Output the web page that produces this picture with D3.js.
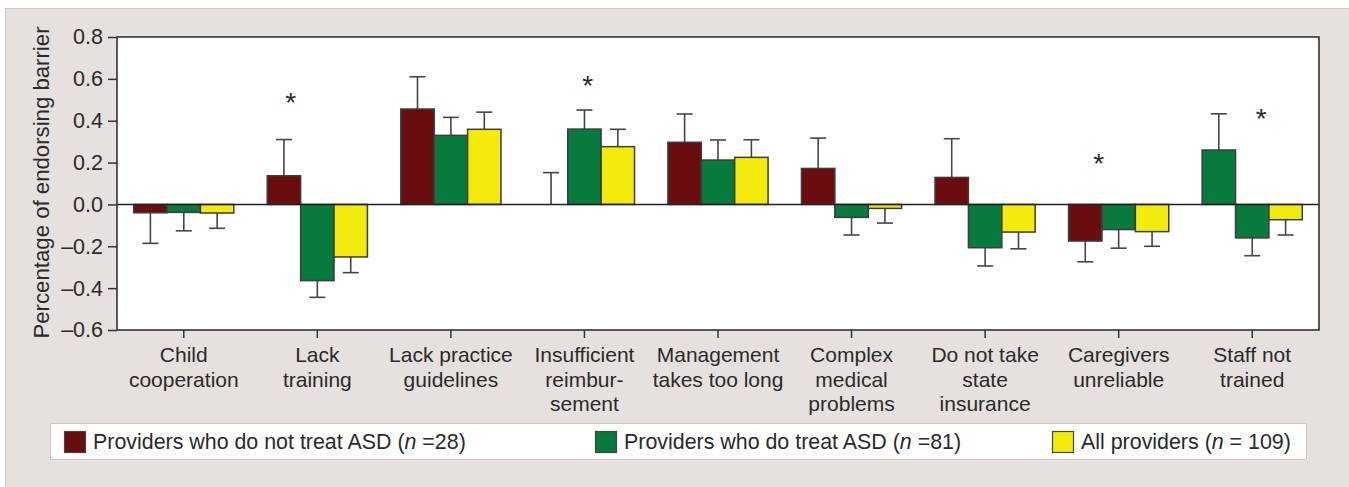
<!DOCTYPE html>
<html>
<head>
<meta charset="utf-8">
<script src="https://cdn.jsdelivr.net/npm/d3@7"></script>
<style>
  body { margin: 0; background: #fff; }
  svg { display: block; font-family: "Liberation Sans", Arial, sans-serif; }
</style>
</head>
<body>
<svg id="chart" width="1349" height="487"></svg>
<script>
// barrier categories, one entry per line of the tick label
const categories = [
    ["Child", "cooperation"],
    ["Lack", "training"],
    ["Lack practice", "guidelines"],
    ["Insufficient", "reimbur-", "sement"],
    ["Management", "takes too long"],
    ["Complex", "medical", "problems"],
    ["Do not take", "state", "insurance"],
    ["Caregivers", "unreliable"],
    ["Staff not", "trained"]
];
const seriesNames = ["notTreat", "treat", "all"];

const notTreat = [-0.04, 0.137, 0.456, 0.0, 0.297, 0.172, 0.129, -0.175, 0.26];
const treat    = [-0.038, -0.364, 0.33, 0.36, 0.212, -0.062, -0.207, -0.12, -0.16];
const allProv  = [-0.041, -0.251, 0.359, 0.276, 0.225, -0.019, -0.132, -0.13, -0.073];

// error bar lengths (drawn away from zero)
const notTreatErr = [0.146, 0.173, 0.154, 0.152, 0.135, 0.145, 0.185, 0.099, 0.173];
const treatErr    = [0.088, 0.08, 0.086, 0.091, 0.096, 0.084, 0.087, 0.089, 0.085];
const allErr      = [0.073, 0.075, 0.082, 0.083, 0.084, 0.07, 0.08, 0.07, 0.073];

// significance asterisks: category index, height, shift in bar widths
const starCats   = [1, 3, 7, 8];
const starValues = [0.52, 0.6, 0.228, 0.443];
const starShift  = [-0.8, 0.1, -0.6, 0.27];

const yTicks = [-0.6, -0.4, -0.2, 0.0, 0.2, 0.4, 0.6, 0.8];

const legendItems = [
    {label: "Providers who do not treat ASD (", n: "n", rest: " =28)"},
    {label: "Providers who do treat ASD (", n: "n", rest: " =81)"},
    {label: "All providers (", n: "n", rest: " = 109)"}
];

var colors = ["#6a0d0f", "#067b3d", "#f3eb0b"];

var svg = d3.select("#chart");

// grey panel behind everything
svg.append("rect")
    .attr("x", 5.5).attr("y", 8.5)
    .attr("width", 1400).attr("height", 500)
    .attr("fill", "#e6e1de")
    .attr("stroke", "#cdc8c5");

var plotLeft = 117, plotRight = 1319, plotTop = 37, plotBottom = 330;

var x = d3.scaleBand()
    .domain(d3.range(categories.length))
    .range([plotLeft, plotRight]);
var xs = d3.scaleBand()
    .domain(d3.range(seriesNames.length))
    .range([0, x.bandwidth()])
    .paddingOuter(0.5);
var y = d3.scaleLinear()
    .domain([-0.6, 0.8])
    .range([plotBottom, plotTop]);

svg.append("rect")
    .attr("x", plotLeft).attr("y", plotTop)
    .attr("width", plotRight - plotLeft).attr("height", plotBottom - plotTop)
    .attr("fill", "#fff");

// build bar records
var values = [notTreat, treat, allProv];
var errs = [notTreatErr, treatErr, allErr];
var bars = [];
categories.forEach((c, i) => {
    values.forEach((v, s) => {
        bars.push({cat: i, s: s, v: v[i], e: errs[s][i]});
    });
});

function fillOf(d) {
    // the source figure draws the first bar of "Staff not trained" in green
    if (d.cat === 8 && d.s === 0) return colors[1];
    return colors[d.s];
}

var g = svg.append("g");

// error bars first so the bar outline covers their base
var eg = g.selectAll("g.err")
    .data(bars)
    .enter()
    .append("g")
    .attr("class", "err")
    .attr("stroke", "#454545")
    .attr("stroke-width", 1.6);

function errEnd(d) { return d.v < 0 ? d.v - d.e : d.v + d.e; }
function cx(d) { return x(d.cat) + xs(d.s) + xs.bandwidth() / 2; }

eg.append("line")
    .attr("x1", cx).attr("x2", cx)
    .attr("y1", d => y(d.v))
    .attr("y2", d => y(errEnd(d)));
eg.append("line")
    .attr("x1", d => cx(d) - 8).attr("x2", d => cx(d) + 8)
    .attr("y1", d => y(errEnd(d)))
    .attr("y2", d => y(errEnd(d)));

g.selectAll("rect.bar")
    .data(bars.filter(d => d.v !== 0))
    .enter()
    .append("rect")
    .attr("class", "bar")
    .attr("x", d => x(d.cat) + xs(d.s))
    .attr("width", xs.bandwidth())
    .attr("y", d => y(Math.max(0, d.v)))
    .attr("height", d => Math.abs(y(d.v) - y(0)))
    .attr("fill", fillOf)
    .attr("stroke", "#3c3c3c")
    .attr("stroke-width", 1.5);

// zero line
svg.append("line")
    .attr("x1", plotLeft).attr("x2", plotRight)
    .attr("y1", y(0)).attr("y2", y(0))
    .attr("stroke", "#222")
    .attr("stroke-width", 1.5);

// frame
svg.append("rect")
    .attr("x", plotLeft).attr("y", plotTop)
    .attr("width", plotRight - plotLeft).attr("height", plotBottom - plotTop)
    .attr("fill", "none")
    .attr("stroke", "#333")
    .attr("stroke-width", 1.6);

// stars
svg.selectAll("text.star")
    .data(starCats)
    .enter()
    .append("text")
    .attr("class", "star")
    .attr("x", (c, i) => x(c) + x.bandwidth() / 2 + starShift[i] * xs.bandwidth())
    .attr("y", (c, i) => y(starValues[i]) + 16)
    .attr("text-anchor", "middle")
    .attr("font-size", 28)
    .attr("fill", "#2a2a2a")
    .text("*");

// y axis
var yAxis = svg.append("g")
    .attr("transform", "translate(" + plotLeft + ",0)")
    .call(d3.axisLeft(y)
        .tickValues(yTicks)
        .tickSize(9)
        .tickPadding(5)
        .tickFormat(d => d3.format(".1f")(d).replace("−", "–")));
yAxis.select(".domain").remove();
yAxis.selectAll("line").attr("stroke", "#333").attr("stroke-width", 1.5);
yAxis.selectAll("text")
    .attr("font-size", 21.5)
    .attr("font-family", "Liberation Sans, Arial, sans-serif")
    .attr("fill", "#2a2a2a");

svg.append("text")
    .attr("transform", "translate(49," + ((plotTop + plotBottom) / 2 - 1) + ") rotate(-90)")
    .attr("text-anchor", "middle")
    .attr("font-size", 22.2)
    .attr("fill", "#2a2a2a")
    .text("Percentage of endorsing barrier");

// x axis
var xAxis = svg.append("g")
    .attr("transform", "translate(0," + plotBottom + ")")
    .call(d3.axisBottom(x).tickSize(8).tickFormat(""));
xAxis.select(".domain").remove();
xAxis.selectAll("line").attr("stroke", "#333").attr("stroke-width", 1.5);

xAxis.selectAll(".tick").each(function(i) {
    var t = d3.select(this).append("text")
        .attr("text-anchor", "middle")
        .attr("font-size", 21)
        .attr("font-family", "Liberation Sans, Arial, sans-serif")
        .attr("fill", "#2a2a2a");
    categories[i].forEach((line, k) => {
        t.append("tspan")
            .attr("x", 0)
            .attr("y", 32 + k * 24.5)
            .text(line);
    });
});

// legend
var lg = svg.append("g");
lg.append("rect")
    .attr("x", 50.5).attr("y", 423.5)
    .attr("width", 1256).attr("height", 36)
    .attr("fill", "#fff")
    .attr("stroke", "#cfcac7");

var legendX = [64, 595, 1052];
legendItems.forEach((item, i) => {
    lg.append("rect")
        .attr("x", legendX[i] + 0.5).attr("y", 431.5)
        .attr("width", 21).attr("height", 21)
        .attr("fill", colors[i])
        .attr("stroke", "#444")
        .attr("stroke-width", 1.2);
    var t = lg.append("text")
        .attr("x", legendX[i] + 29)
        .attr("y", 449)
        .attr("font-size", 21.4)
        .attr("fill", "#2a2a2a");
    t.append("tspan").text(item.label);
    t.append("tspan").attr("font-style", "italic").text(item.n);
    t.append("tspan").text(item.rest);
});
</script>
</body>
</html>
